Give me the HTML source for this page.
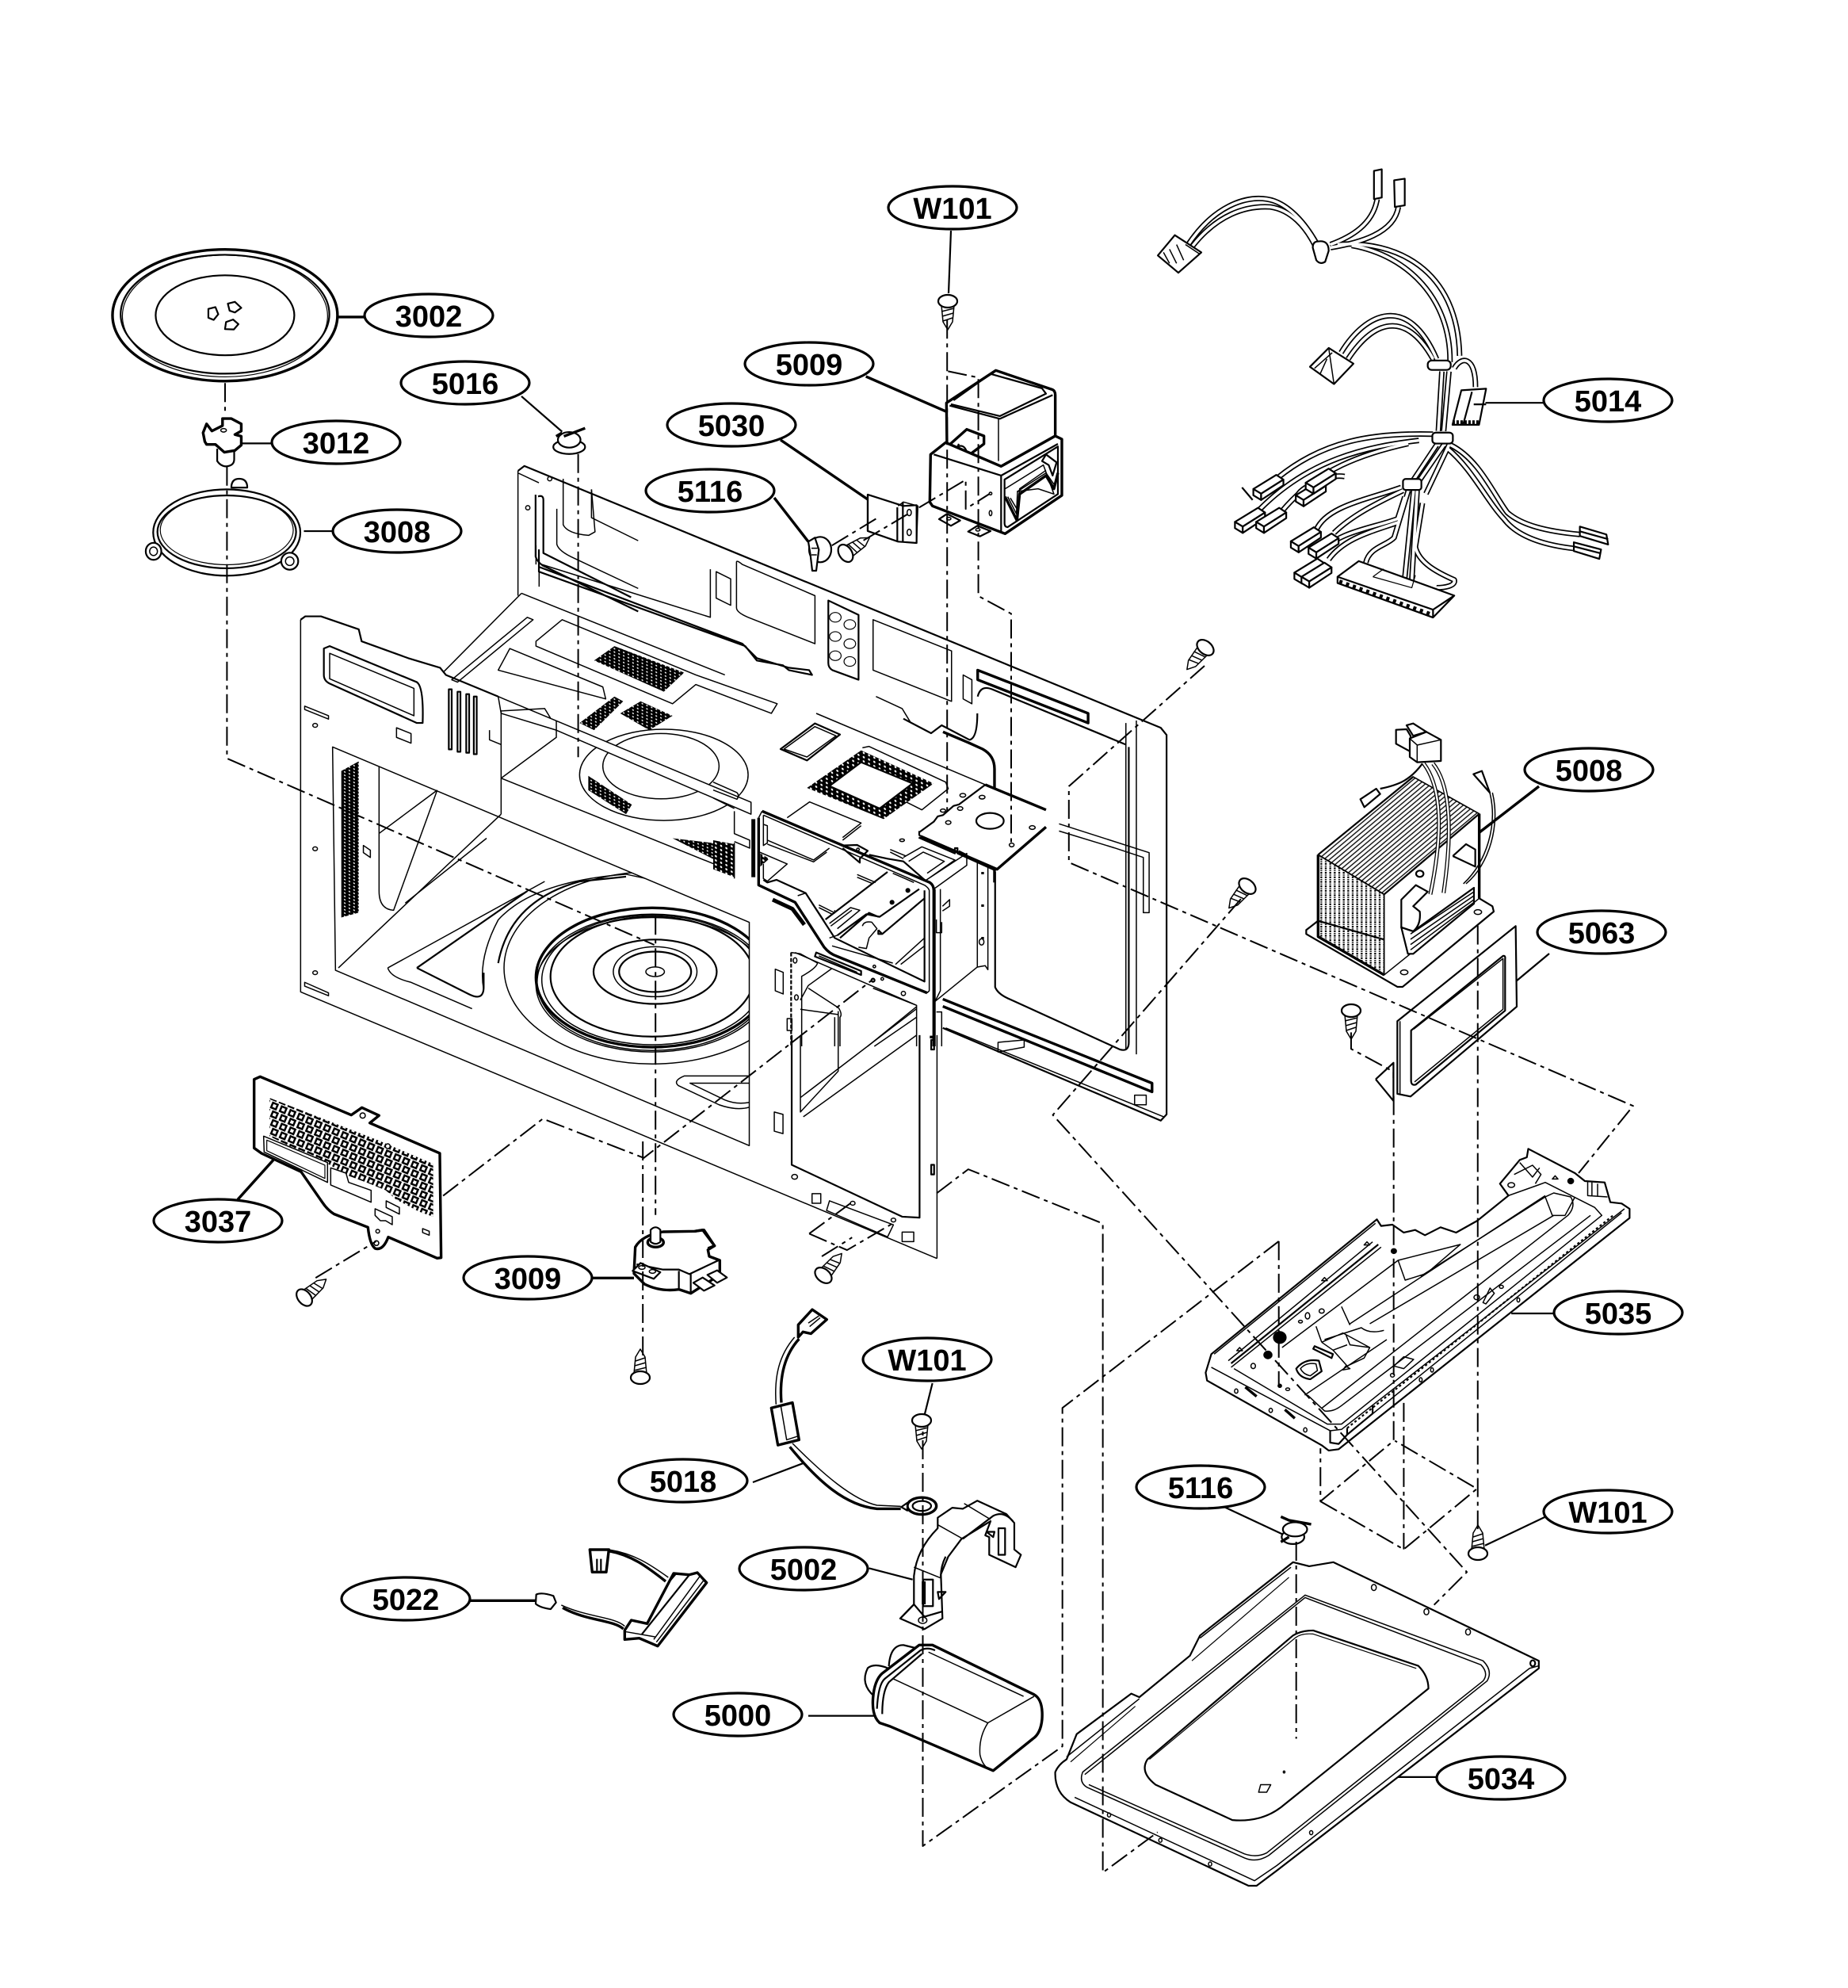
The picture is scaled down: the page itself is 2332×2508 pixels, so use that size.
<!DOCTYPE html>
<html><head><meta charset="utf-8"><style>
html,body{margin:0;padding:0;background:#fff}
svg{display:block;fill:none;stroke:#000;stroke-width:1.5;stroke-linejoin:round}
svg *{vector-effect:non-scaling-stroke}
.m{stroke-width:2.2}.k{stroke-width:3.4}.x{stroke-width:5}.t{stroke-width:1.2}
.f{fill:#fff}.b{fill:#000}
.d{stroke-width:2;stroke-dasharray:24 6 5 6}
.wb{stroke-width:7}.ww{stroke:#fff;stroke-width:3.6}
.l ellipse{fill:#fff;stroke-width:3.2}
.l text{font:bold 38px "Liberation Sans",sans-serif;fill:#000;stroke:none;text-anchor:middle}
</style></head><body>
<svg width="2332" height="2508" viewBox="0 0 2332 2508" xmlns="http://www.w3.org/2000/svg">
<defs>
<pattern id="dk" width="8" height="7" patternUnits="userSpaceOnUse" patternTransform="skewY(26)"><rect width="8" height="7" fill="#000" stroke="none"/><circle cx="4" cy="3.5" r="1.5" fill="#fff" stroke="none"/></pattern>
<pattern id="dkA" width="20" height="16" patternUnits="userSpaceOnUse" patternTransform="skewY(24)"><rect width="20" height="16" fill="#000" stroke="none"/><circle cx="10" cy="8" r="4" fill="#fff" stroke="none"/></pattern>
<pattern id="ht" width="14" height="14" patternUnits="userSpaceOnUse" patternTransform="rotate(-40)"><line x1="0" y1="7" x2="14" y2="7" stroke="#000" stroke-width="4"/></pattern>
<pattern id="fn" width="17" height="17" patternUnits="userSpaceOnUse"><line x1="6" y1="0" x2="6" y2="17" stroke="#000" stroke-width="7" stroke-dasharray="4 3"/></pattern>
<clipPath id="pc"><path d="M180,195L590,355L800,445V645L745,625L660,580L620,545L560,520L480,490L350,415L250,375L180,340Z"/></clipPath>
<g id="s"><path class="f" d="M-8,5L-6,26L0,36L6,26L8,5Z"/><path d="M-8,13L8,9M-7,19L7,15M-6,25L6,21"/><ellipse class="f m" cx="0" cy="0" rx="12" ry="8"/></g>
<g id="c"><path class="f m" d="M0,0L65,-45L85,-30L22,15Z"/><path class="f m" d="M0,0V20L22,35V15Z"/><path class="f m" d="M22,15L85,-30V-12L22,35Z"/></g>
<g id="wr">
<path d="M175,330C250,200 340,170 400,180C460,190 510,260 540,320"/>
<path d="M190,330C260,230 340,200 410,205C470,215 510,270 535,325"/>
<path d="M580,325C640,300 700,260 712,180"/>
<path d="M580,335C660,320 760,290 772,205"/>
<path d="M600,325C760,310 940,400 945,680"/>
<path d="M640,328C800,360 920,500 918,700"/>
<path d="M610,670C680,540 800,480 880,690"/>
<path d="M630,690C700,570 790,530 870,690"/>
<path d="M895,730L885,920"/>
<path d="M915,730L900,920"/>
<path d="M930,720C950,680 990,680 990,780"/>
<path d="M870,930C700,925 560,950 430,1070"/>
<path d="M830,950C680,970 520,1010 380,1170"/>
<path d="M800,960C680,990 540,1040 440,1180"/>
<path d="M520,1090C560,1070 590,1060 620,1065"/>
<path d="M510,1100C470,1130 500,1130 490,1140"/>
<path d="M920,965C1000,1010 1040,1120 1080,1180C1120,1220 1190,1240 1285,1250"/>
<path d="M910,975C980,1040 1020,1140 1070,1200C1110,1260 1190,1285 1270,1295"/>
<path d="M880,965L815,1075"/>
<path d="M900,965L830,1080"/>
<path d="M915,965L850,1120"/>
<path d="M780,1100C680,1140 570,1160 540,1235"/>
<path d="M785,1110C710,1150 640,1190 590,1245"/>
<path d="M790,1130L770,1200C700,1230 600,1240 550,1310"/>
<path d="M775,1210C700,1240 620,1260 575,1330"/>
<path d="M800,1110L760,1260C740,1285 690,1290 680,1340"/>
<path d="M815,1110L790,1390"/>
<path d="M825,1110L810,1395"/>
<path d="M840,1150L820,1290C830,1340 880,1370 930,1395C935,1415 900,1420 880,1420"/>
</g>
</defs>

<!-- main chassis -->
<g transform="translate(350,700) scale(.7334,.6059)">
<path class="m" d="M414,-175L425,-185L1520,360L1530,375L1530,1165L1520,1178L1145,985"/>
<path d="M414,-175V85M450,-150L415,-170M1460,350V1030M1478,345V1040"/>
<path class="m" d="M450,-10V25L800,185L825,215L880,235L915,240L920,250L880,240L870,230L825,220L805,190L450,35Z"/>
<path d="M445,20V-20M455,20L745,130V30"/>
<path d="M790,15Q790,10 800,20L925,85V185L810,130Q790,120 790,110Z"/>
<path class="m" d="M948,95L1000,125V260L955,240Q948,235 948,225Z"/>
<g class="t"><circle cx="960" cy="130" r="10"/><circle cx="985" cy="145" r="10"/><circle cx="960" cy="170" r="10"/><circle cx="985" cy="185" r="10"/><circle cx="960" cy="210" r="10"/><circle cx="985" cy="222" r="10"/></g>
<path d="M1025,135L1160,200V305L1025,240Z"/>
<path d="M755,35L780,50V105L755,90Z"/><path d="M1180,250L1195,260V310L1180,300Z"/>
<path class="k" d="M1205,240L1395,330V350L1205,260Z"/>
<path class="m" d="M1205,295Q1210,270 1230,280L1410,370L1460,395"/>
<path d="M1030,295L1075,320L1090,350"/>
<path class="m" d="M1235,660V900Q1240,915 1260,925L1450,1030Q1465,1035 1465,1015V400"/>
<path class="k" d="M1145,925L1505,1100V1118L1145,940"/>
<path d="M1150,985L1525,1170M1240,1015L1285,1010L1285,1025L1240,1035Z"/>
<path d="M1475,1125L1495,1125V1145L1475,1145Z"/>
<path d="M420,80L770,250M420,80L285,245"/>
<path d="M300,260L430,130L440,135L310,265Z"/>
<path d="M380,240L400,195L560,275L565,300Z"/>
<path d="M445,180L490,135L720,250L860,310L850,330L720,270L680,310L445,190Z"/>
<path fill="url(#dk)" stroke="none" d="M545,220L580,190L700,245L665,285Z"/>
<path fill="url(#dk)" stroke="none" d="M520,350L580,295L595,305L545,365Z"/>
<path fill="url(#dk)" stroke="none" d="M590,330L625,305L680,335L640,365Z"/>
<ellipse cx="665" cy="458" rx="145" ry="95"/><ellipse cx="660" cy="440" rx="100" ry="68"/>
<path fill="url(#dk)" stroke="none" d="M535,460L610,520L600,540L535,490Z"/>
<!-- duct -->
<path class="f" d="M380,295L815,515V540L480,365L385,330Z"/>
<path d="M365,365V385L385,395M385,325L460,320L470,340"/>
<path d="M385,325V465L785,660"/>
<path d="M385,465L480,380V345"/>
<path fill="url(#dk)" stroke="none" d="M680,590L785,605V655Z"/>
<!-- front frame -->
<path class="m" d="M40,135L48,128L75,128L140,155L145,180L225,215L280,235L290,250L380,295"/>
<path d="M40,135V910L1135,1465M1135,1000V1465"/>
<path d="M95,400L812,765V1230L100,865Z"/>
<path class="m" d="M80,195L90,190L240,265Q252,275 250,350L240,350L90,268Q80,262 80,250Z"/>
<path d="M90,205L235,278V335L90,258Z"/>
<path class="m" d="M295,280H300V405H295ZM310,285H315V410H310ZM325,290H330V412H325ZM338,295H343V415H338Z"/>
<path d="M205,360L230,372V392L205,380ZM47,315L88,335V342L47,322ZM47,890L88,912V918L47,898Z"/>
<circle cx="65" cy="355" r="4"/><circle cx="65" cy="612" r="4"/><circle cx="65" cy="870" r="4"/>
<path fill="url(#dk)" stroke="none" d="M110,450L140,430V745L110,755Z"/>
<path d="M175,440V700Q175,738 200,740L275,490M175,580L275,490M105,860L385,540M385,465V540"/>
<path d="M220,725L360,590"/>
<path d="M160,630L148,620V605L160,615Z"/>
<clipPath id="w"><path d="M95,400L812,765V1230L100,865Z"/></clipPath>
<g clip-path="url(#w)">
<ellipse class="k" cx="645" cy="880" rx="200" ry="145"/>
<ellipse cx="645" cy="885" rx="190" ry="135"/><ellipse cx="645" cy="890" rx="198" ry="142"/><ellipse cx="645" cy="895" rx="200" ry="140"/>
<ellipse class="m" cx="645" cy="878" rx="175" ry="125"/>
<ellipse class="m" cx="650" cy="868" rx="106" ry="67"/>
<ellipse cx="650" cy="868" rx="72" ry="52"/><ellipse class="m" cx="650" cy="868" rx="62" ry="42"/>
<ellipse cx="650" cy="868" rx="16" ry="10"/>
<path d="M355,905Q345,840 380,760Q440,680 600,665L812,720"/>
<path class="m" d="M380,850Q400,720 520,680L600,670"/>
<ellipse cx="645" cy="860" rx="255" ry="200"/>
<path class="m" d="M240,860L430,700M240,860L330,915Q355,930 355,900V870"/>
<path d="M190,860L460,680M190,860Q195,880 230,890L335,945"/>
<path d="M812,1085L700,1085Q680,1095 690,1105L760,1145Q790,1158 812,1150"/>
<path d="M812,1100L710,1100L770,1135Q790,1145 812,1140"/>
</g>
<path d="M1345,560L1500,620V745H1490V630L1440,610L1345,575"/>
<!-- lower right window -->
<path class="m" d="M885,1000V1270L1075,1378L1105,1380V1000"/>
<path d="M900,1000V1160L965,1075V950M900,1130L1100,945M905,1170L1100,1000"/>
<path d="M855,1160L870,1165V1205L855,1200Z"/>
<path d="M920,1330H935V1350H920ZM1075,1410H1095V1430H1075Z"/>
<path d="M950,1345L1060,1395L1050,1420L945,1365Z"/>
<path class="m" d="M1125,1010H1130V1030H1125ZM1125,1270H1130V1290H1125Z"/>
<circle cx="990" cy="1350" r="4"/><circle cx="1060" cy="1385" r="4"/>
<circle cx="890" cy="1295" r="5"/>
</g>

<!-- central chassis detail -->
<g transform="translate(900,900) scale(.3333)">
<path class="m" d="M255,135L385,38L480,80L355,178Z"/><path d="M268,135L385,50L465,85L355,165Z"/>
<path fill="url(#dkA)" stroke="none" fill-rule="evenodd" d="M355,282L560,140L835,265L645,400ZM440,275L630,360L755,265L560,185Z"/>
<path class="m" d="M440,275L560,185L755,265L630,360Z"/>
<path d="M565,130L590,125L880,260L890,285L790,365L730,335"/>
<path d="M390,0L1030,270"/>
<path class="m" d="M720,20L825,75L865,45L970,100Q1000,95 1000,0"/>
<path class="k" d="M870,70L965,110L1020,135Q1065,160 1065,210V285"/>
<path class="f k" d="M1030,270L1260,365"/>
<path class="k" d="M1260,430L1075,590L785,465"/>
<path class="m" d="M780,445V460L785,465M780,450L835,410L850,390L870,385L910,350L930,345L1030,270"/>
<ellipse class="m" cx="1048" cy="407" rx="52" ry="30"/>
<g><ellipse cx="1018" cy="317" rx="11" ry="7"/><ellipse cx="1208" cy="432" rx="11" ry="7"/><ellipse cx="1130" cy="498" rx="9" ry="7"/><ellipse cx="890" cy="413" rx="10" ry="7"/><ellipse cx="945" cy="310" rx="11" ry="7"/><ellipse cx="935" cy="360" rx="10" ry="7"/><ellipse cx="870" cy="368" rx="10" ry="6"/><ellipse cx="715" cy="480" rx="9" ry="5"/></g>
<path class="m" d="M778,470L915,530V510L925,510V530L1070,595"/>
<path class="k" d="M1065,590V640"/>
<path d="M1000,560V960L1030,955L1040,970V580"/>
<path stroke-dasharray="3 38" class="k" d="M1020,600V950"/>
<ellipse cx="1016" cy="865" rx="9" ry="12"/>
<path d="M840,1090L1000,960"/>
<path class="k" d="M185,370L820,640Q835,650 835,670V1260"/>
<path d="M190,385L800,650Q815,660 818,670V1050L810,1058"/>
<path class="k" d="M172,395V650L310,715L420,885Q440,910 470,920L810,1058"/>
<path class="m" d="M190,630L205,640L240,630L350,680L460,850L800,1015V670"/>
<path d="M185,370L172,395M320,690L350,680M420,785L350,680M440,850L470,840"/>
<path d="M190,385V500L205,490V425L190,420"/>
<path d="M205,480L380,555L440,510M205,495L380,562L430,525"/>
<path d="M280,395L365,335L560,415L490,470M560,425L490,480"/>
<path class="m" d="M490,500L545,498L585,520L555,550V565L490,510"/>
<circle cx="548" cy="515" r="5"/>
<path class="m" d="M590,535L660,550L720,560L800,630"/>
<path d="M800,635L960,530V575L835,665M930,520L960,535M720,545L790,505L915,555L815,625M740,560L795,525L875,560L810,605"/>
<path d="M670,515L730,540M670,525L720,550"/>
<path class="m" d="M425,780L660,600"/>
<path d="M545,610L615,640M545,620L605,645M400,725L460,755V745M400,735L450,760"/>
<path d="M440,795L520,735L555,745L470,815M445,805L525,745"/>
<path class="m" d="M470,840L580,760L630,770L780,665M480,850L590,755L625,770M640,835L800,700M625,820V835L640,835L625,820"/>
<path d="M565,805Q570,785 600,790L620,815L590,850L580,890L550,885M680,605L760,640"/>
<circle class="b" cx="677" cy="715" r="7"/><circle class="b" cx="737" cy="670" r="7"/>
<path d="M690,950L800,850M710,950L800,880M450,880L680,945M610,958"/>
<circle cx="610" cy="958" r="5"/>
<path class="x" d="M225,705L300,740L345,800"/>
<path class="x" stroke-width="6" d="M152,400V620"/>
<path d="M80,370V455L138,480V510L80,485M0,320L80,360M0,260L90,300Q100,310 90,325L0,290"/>
<path fill="url(#dkA)" stroke="none" d="M0,480L80,495V620L0,590Z"/>
<path d="M80,490V625"/>
<path fill="url(#dkA)" stroke="none" d="M178,530L212,550L178,580Z"/>
<path d="M175,525L280,570L205,635M190,570V625L205,635"/>
<path class="m" stroke-dasharray="5 2" d="M295,905V1260"/>
<path d="M295,905L330,910L395,945Q390,965 335,995V1260M330,1085L360,1030L450,965"/>
<path d="M330,1120L475,1140M360,1040L475,1115M475,1115Q490,1140 480,1150V1260M460,1150V1260"/>
<path d="M605,1040L770,1105V1260M585,1260L770,1110M610,1260L770,1150M310,905L770,1105"/>
<path class="m" d="M390,905L560,975V990L385,920Z"/>
<path d="M400,918L545,980"/>
<path d="M235,968L265,980V1062L235,1050ZM280,1155H298V1200H280Z"/>
<ellipse cx="310" cy="935" rx="7" ry="10"/><ellipse cx="315" cy="1075" rx="7" ry="10"/><ellipse cx="720" cy="1060" rx="8" ry="8"/><circle cx="640" cy="1005" r="5"/><circle class="m" cx="605" cy="1010" r="6"/>
<path d="M860,665V1050L840,1090M840,665V1260M845,1130H865V1260"/>
<path d="M868,730L895,705V730L868,748M845,780V830L865,830V790"/>
<path class="k" d="M820,1225H835V1260"/>
</g>

<!-- back panel top-left, 3002, 3012, 3008, 5016 -->
<g transform="translate(100,200) scale(.4464)">
<path class="m" d="M1297,955Q1312,950 1312,965V1115L1560,1240"/>
<path class="m" d="M1290,950V1125Q1295,1140 1310,1150L1580,1280"/>
<path d="M1300,1150V1210M1368,905V1035Q1380,1060 1440,1065L1458,1055L1448,935"/>
<path d="M1350,990V1090Q1355,1110 1400,1130L1580,1215"/>
<path d="M1448,935V1015L1580,1080"/>
<circle cx="1330" cy="905" r="6"/><circle cx="1268" cy="987" r="6"/>
<ellipse class="k" cx="412" cy="443" rx="318" ry="186"/>
<ellipse class="m" cx="412" cy="440" rx="295" ry="168"/>
<ellipse class="t" cx="412" cy="445" rx="290" ry="172"/>
<ellipse class="m" cx="412" cy="443" rx="196" ry="113"/>
<path class="m" d="M365,425L385,420L393,440L380,456L365,450ZM420,410L440,405L458,422L440,435L425,430ZM412,482L415,462L435,455L450,468L437,483Z"/>
<path class="k" d="M733,448H812"/>
<path class="f m" d="M390,820V855Q400,870 415,870Q438,868 438,850V820"/>
<path class="f k" d="M355,800L350,775L360,750L375,770L405,755V735L430,735L458,750L458,770L440,780L458,785L458,810L440,825L410,830L385,808L360,808Z"/>
<ellipse cx="408" cy="768" rx="8" ry="5"/>
<path class="m" d="M460,805H545"/>
<path class="f m" d="M430,930Q430,905 452,905Q475,905 475,930Z"/>
<ellipse class="m" cx="417" cy="1057" rx="208" ry="122"/>
<ellipse class="m" cx="417" cy="1055" rx="196" ry="103"/>
<ellipse class="t" cx="417" cy="1050" rx="188" ry="98"/>
<ellipse class="f m" cx="210" cy="1110" rx="22" ry="24"/><ellipse cx="210" cy="1110" rx="11" ry="12"/>
<ellipse class="f m" cx="595" cy="1138" rx="24" ry="24"/><ellipse cx="595" cy="1138" rx="12" ry="12"/>
<path class="m" d="M635,1053H720"/>
<path class="m" d="M1250,672L1365,772"/>
<ellipse class="f m" cx="1385" cy="815" rx="45" ry="20"/>
<ellipse class="f m" cx="1385" cy="795" rx="32" ry="22"/>
<path class="k" d="M1370,785L1430,762M1348,785L1365,775"/>
</g>

<!-- 5009 etc -->
<g transform="translate(1000,400) scale(.3333)">
<path class="k" d="M278,225L583,358M-45,465L285,690M-69,684L60,850"/>
<path class="f k" d="M583,325L770,202L985,275Q995,280 995,295V450L790,565L585,490Z"/>
<path class="m" d="M595,335L785,385L985,295M610,315L750,215L945,270L960,290L785,375L600,330"/>
<path d="M780,385V545"/>
<path class="f k" d="M598,480L660,425L725,450L725,480L665,525L620,525Z"/>
<path class="m" d="M625,490Q650,480 660,510M605,495L640,510M615,515L630,480"/>
<path class="f k" d="M523,520L580,475L790,565L995,450L1020,462V675L805,820L530,715L520,700Z"/>
<path class="m" d="M535,520L790,600L1005,480M790,600V810"/>
<path class="m" d="M803,615L1005,490L1005,670L815,795Q803,795 803,780Z"/>
<path d="M805,650L950,560L990,670L930,650L850,660"/>
<path class="k" d="M805,680L850,770L860,670L960,600L990,650L1005,590"/>
<path d="M815,680L848,745L852,660L960,590L995,640M825,685L852,730L860,650L960,580"/>
<path class="m" d="M945,545L960,520L1000,550L985,600L970,560Z"/>
<path class="m" d="M555,765L585,745L635,770L600,790ZM665,812L700,790L750,810L710,830Z"/>
<ellipse cx="592" cy="763" rx="8" ry="5"/><ellipse cx="702" cy="805" rx="8" ry="5"/>
<circle cx="750" cy="668" r="5"/><ellipse cx="750" cy="742" rx="5" ry="10"/>
<path class="m" d="M285,672L420,715L470,712V855L400,850L285,810Z"/>
<path class="m" d="M397,720V848M418,700V850M285,672V810"/>
<path d="M400,715L420,700L475,715L470,855"/>
<ellipse cx="442" cy="740" rx="8" ry="12"/><ellipse cx="442" cy="815" rx="8" ry="12"/>
<ellipse class="f m" cx="105" cy="880" rx="42" ry="48"/>
<path class="f m" d="M60,850L85,835L100,880L90,960L75,960L68,900Z"/>
<path d="M72,875H95M72,900H92"/>
</g>
<path class="m" d="M1200,291L1197,370"/>

<!-- harness -->
<g transform="translate(1420,180) scale(.4464,.3954)">
<use href="#wr" class="wb"/><use href="#wr" class="ww"/>
<path class="m" d="M330,1100L360,1140"/>
<path class="m f" d="M92,360L140,295L215,350L150,415Z"/>
<path d="M170,325L210,355M108,350L125,385M125,340L145,385M145,325L165,375M92,360L150,415"/>
<path class="f m" d="M703,90L725,85V175L703,180Z"/><path class="f m" d="M760,120L790,115V200L762,205Z"/>
<path class="f m" d="M530,335Q530,315 545,315Q575,310 575,345L565,380Q550,390 540,375Z"/>
<path class="f m" d="M522,715L575,655L645,705L590,770Z"/>
<path d="M535,720L585,670M550,740L570,690M575,655L590,770"/>
<rect class="f m" x="855" y="695" width="65" height="30" rx="12"/>
<path class="f m" d="M950,790L1020,785L1000,900L925,900Z"/>
<path class="m" d="M980,795L955,900M985,835H1020"/>
<path stroke-dasharray="3 2" class="x" d="M925,892H1003"/>
<rect class="f m" x="868" y="925" width="58" height="35" rx="10"/>
<rect class="f m" x="785" y="1073" width="52" height="35" rx="8"/>
<use href="#c" transform="translate(362,1105)"/>
<use href="#c" transform="translate(310,1210)"/>
<use href="#c" transform="translate(370,1210)"/>
<use href="#c" transform="translate(482,1125)"/>
<use href="#c" transform="translate(510,1085)"/>
<use href="#c" transform="translate(468,1272)"/>
<use href="#c" transform="translate(518,1292)"/>
<use href="#c" transform="translate(478,1372)"/>
<use href="#c" transform="translate(498,1385)"/>
<g class="f m">
<path d="M1285,1225L1360,1250L1365,1282L1285,1255Z"/><path d="M1285,1240L1365,1265"/>
<path d="M1268,1275L1345,1298L1340,1328L1268,1303Z"/><path d="M1268,1288L1343,1310"/>
</g>
<path class="f m" d="M600,1385L660,1335L930,1445L870,1515L600,1405Z"/>
<path class="m" d="M600,1385L870,1490V1515M870,1490L930,1445"/>
<path stroke-dasharray="4 5" class="x" d="M605,1400L865,1505"/>
<path class="t" d="M700,1385L810,1420L820,1380M700,1385L730,1360"/>
<path class="m" d="M1018,830H1183"/>
</g>

<!-- transformer -->
<g transform="translate(1620,880) scale(.3333)">
<path class="f m" d="M130,845L85,880V895L430,1095H450L795,810L790,790L735,757L500,950L130,845Z"/>
<ellipse cx="735" cy="812" rx="14" ry="9"/><ellipse cx="456" cy="1040" rx="14" ry="9"/>
<path class="f" d="M130,595L490,300L740,440V760L380,1050V745L130,595Z"/>
<path fill="url(#ht)" d="M130,595L490,300L740,440L380,745Z"/>
<path fill="url(#fn)" d="M130,595L380,745V1050L130,905Z"/>
<path class="k" d="M130,595V905L380,1050M740,440V760"/>
<path class="m" d="M130,595L490,300M380,745L740,440"/>
<path class="f m" d="M445,765L500,710L545,735L490,790L515,810Q520,860 490,885L445,870Z"/>
<path class="f m" d="M445,870L470,970H490L720,780V720L490,885Z"/>
<path d="M480,895L720,735M480,915L720,750M480,935L720,765M480,955L720,775"/>
<path class="m" d="M640,600L690,555L725,575V640L640,600"/>
<ellipse class="m" cx="515" cy="667" rx="14" ry="12"/>
<path style="stroke-width:5" d="M530,250C590,330 610,480 555,745"/><path class="ww" style="stroke-width:2.4" d="M530,250C590,330 610,480 555,745"/>
<path style="stroke-width:5" d="M565,250C630,330 640,500 605,740"/><path class="ww" style="stroke-width:2.4" d="M565,250C630,330 640,500 605,740"/>
<path class="m" d="M525,250C480,310 440,330 365,345"/>
<path class="m f" d="M290,385L350,345L365,365L305,415Z"/>
<path d="M780,360C810,480 770,620 680,705M790,360C820,480 780,630 690,705"/>
<path class="m f" d="M718,290L750,278L780,360Z"/>
<path class="f m" d="M425,122L465,120L480,145V205L425,175Z"/>
<path class="f m" d="M465,105L490,98L540,130L490,145Z"/>
<path class="f m" d="M477,155L540,130L595,160V240L505,245L477,225Z"/>
<path d="M505,180V245M477,155L505,180L595,160"/>
<!-- 5063 -->
<path class="f m" d="M430,1225L878,865L882,1170L480,1510L430,1500Z"/>
<path d="M440,1225V1500"/>
<path class="m" d="M482,1260L830,978Q840,975 838,990V1185L500,1465Q482,1470 482,1450Z"/>
<path d="M492,1255L830,988V1180L495,1455"/>
</g>
<path class="k" d="M1867,1050L1942,992"/>
<path class="m" d="M1955,1203L1913,1238"/>
<g transform="scale(1.6)">
<path class="m" d="M1085,851L1099,838V868L1085,851"/>
</g>
<use href="#s" transform="translate(1705,1275)"/>

<!-- 3037 -->
<g transform="translate(280,1320) scale(.3333)">
<path class="k" d="M195,430L60,580"/>
<path class="f k" d="M122,125L145,115L490,260L530,232L595,262L560,290L825,405L830,800L815,802L630,722Q610,775 580,765Q560,750 553,685L425,635Q400,620 380,590L300,475L150,405L122,385Z"/>
<g clip-path="url(#pc)">
<path style="stroke-width:9;stroke-dasharray:9 3" d="M120,160L830,458M120,193L830,491M120,226L830,524M120,259L830,557M120,292L830,590M120,325L830,623M120,358L830,656"/>
<path style="stroke:#fff;stroke-width:4;stroke-dasharray:4 8;stroke-dashoffset:-2.5" d="M120,160L830,458M120,193L830,491M120,226L830,524M120,259L830,557M120,292L830,590M120,325L830,623M120,358L830,656"/>
</g>
<path class="f" d="M158,340L400,440V515L160,400Z"/>
<path class="t" d="M170,355L390,450V500L170,395Z"/>
<path class="f" d="M412,525V460L470,480L480,515L565,545V590L412,525Z"/>
<path class="f" d="M580,615L645,645V675L620,660L600,660L580,640ZM622,585L672,610V635L622,610ZM760,690L785,700V715L760,705Z"/>
<circle cx="533" cy="262" r="10"/><circle class="f" cx="628" cy="378" r="9"/><circle cx="590" cy="700" r="7"/><circle cx="585" cy="745" r="9"/>
</g>
<use href="#s" transform="translate(384,1637) rotate(-130)"/>

<!-- 3009 -->
<g transform="translate(770,1530) scale(.3333)">
<path class="f k" d="M95,130Q120,85 200,72L320,70L350,65L395,125L370,140L375,165L415,180V235L305,305L260,290Q190,300 130,270L90,230Z"/>
<path class="k" d="M320,70L355,65L395,125L370,135"/>
<path class="m" d="M100,195L200,215L260,215L300,232L410,180M260,220V285M305,232V305"/>
<path class="f m" d="M85,220L115,190L190,225L165,250Z"/>
<ellipse cx="120" cy="207" rx="12" ry="7"/><ellipse cx="160" cy="222" rx="12" ry="7"/>
<path class="f m" d="M315,265L350,245L395,275L355,295Z"/><path class="f m" d="M368,235L405,218L442,245L405,265Z"/>
<ellipse class="f k" cx="172" cy="112" rx="30" ry="18"/>
<path class="f m" d="M153,65Q172,45 190,65V110Q172,125 153,110Z"/>
<path class="k" d="M-69,247H90"/>
</g>
<use href="#s" transform="translate(1039,1609) rotate(-140)"/>
<use href="#s" transform="translate(808,1738) rotate(180)"/>
<use href="#s" transform="translate(1196,380)"/>
<use href="#s" transform="translate(1521,817) rotate(40)"/>
<use href="#s" transform="translate(1574,1118) rotate(40)"/>
<use href="#s" transform="translate(1067,698) rotate(-123)"/>

<!-- 5018, 5002, 5000 -->
<g transform="translate(900,1620) scale(.3333,.4464)">
<path class="m" d="M150,560L345,505M590,803L755,835M360,1220H610M830,280L800,370"/>
<path class="k" d="M325,155C270,200 250,260 258,335"/>
<path d="M308,150C250,200 230,260 238,340"/>
<path class="f k" d="M220,350L300,335L325,440L245,455Z"/>
<path d="M255,340L278,440L320,430"/>
<path class="k" d="M290,460C400,560 500,625 620,635L710,635"/>
<path d="M300,450C420,540 530,610 620,625L710,628"/>
<ellipse class="f k" cx="790" cy="627" rx="55" ry="24"/><ellipse class="m" cx="790" cy="627" rx="35" ry="14"/>
<path class="m f" d="M712,630L735,618V640Z"/>
<path class="f k" d="M322,115L375,72L430,100L370,140L340,135L322,150Z"/>
<path d="M360,110L400,90M365,120L405,95"/>
<path class="f m" d="M850,660L905,632L945,635L1000,612L1110,650L1140,675V750L1165,765L1145,800L1045,765V715L1030,710L1050,670L940,720L890,770L862,820L868,945L800,975L708,945L760,905V825Q770,750 850,690Z"/>
<path d="M850,680L945,720M760,800L860,830M950,620L1050,665"/>
<path class="m" d="M880,770Q860,800 862,830M945,720L1060,655Q1100,640 1135,670"/>
<path class="m" d="M1080,690H1105V765H1080Z"/>
<path class="m" d="M795,835H832V910H795Z"/>
<path class="x" d="M797,840V905"/>
<path class="m" d="M708,945L760,905L800,940L868,925"/>
<ellipse cx="793" cy="950" rx="16" ry="9"/>
<path class="m" d="M850,870L880,870L855,890Z"/>
<path class="m" d="M1035,700L1065,700L1060,715Z"/>
<path class="f m" d="M665,1080Q670,1020 720,1020L775,1030"/>
<path class="f m" d="M610,1165Q555,1130 585,1085Q610,1070 660,1085"/>
<path class="f k" d="M605,1170Q610,1120 640,1100L780,1020H830L1215,1160Q1250,1175 1245,1230Q1240,1270 1210,1285L1060,1375L670,1250L630,1240Q600,1220 605,1170Z"/>
<path class="m" d="M620,1200Q625,1130 650,1115L785,1035Q810,1025 840,1035M640,1215Q640,1150 665,1125L790,1045"/>
<path d="M680,1115L1040,1240L1215,1165M815,1040L1175,1165M1040,1240Q1005,1280 1010,1330Q1020,1365 1055,1375"/>
</g>
<use href="#s" transform="translate(1163,1792)"/>

<!-- 5022 -->
<g transform="translate(640,1880) scale(.3333)">
<path class="k" d="M-141,418H110"/>
<path class="f m" d="M110,395Q130,385 175,400L185,425L165,450Q125,445 108,430Z"/>
<path class="k" d="M210,445C300,495 400,490 440,525M385,230C470,245 530,290 600,345"/>
<path d="M205,435C300,480 410,480 445,515M385,225C480,240 540,280 610,330"/>
<path class="f k" d="M313,225L385,225L375,310L322,310Z"/>
<path class="m" d="M340,260V305M355,260V305"/>
<path class="f k" d="M445,530L470,492L530,505L630,315L690,320L720,312L755,350L570,590L500,560L445,565Z"/>
<path class="m" d="M610,350L640,315L690,320L510,545"/>
<path d="M730,325L555,565M745,340L565,575M445,535L560,555"/>
</g>

<!-- 5035 -->
<g transform="translate(1500,1430) scale(.3571,.3333)">
<path class="f m" d="M60,905L80,835L665,325L680,350L720,345L760,375L800,365L835,385L890,355L945,375L1020,330L1130,235L1100,190L1170,100L1195,90L1200,58L1365,150L1400,180L1470,185L1490,260L1530,265L1558,285V320L530,1195L495,1200L470,1180L65,935Z"/>
<path d="M80,885L500,1125L540,1120L1540,285"/>
<path class="m" d="M150,870L670,420"/><path d="M150,885L680,430M90,835L660,340M140,860L650,410"/>
<path d="M160,890L490,1100L540,1100L1460,310L1435,280L1260,185L1235,195L1130,235"/>
<path stroke-dasharray="3 3" class="m" d="M560,1115L1500,310"/><path d="M570,1130L1530,300"/>
<path d="M420,990L480,1050Q510,1055 540,1030L1420,310M410,990L700,780M470,1040L1340,310Q1370,275 1350,240L1290,225L1260,240L820,540"/>
<path d="M330,810L740,480L960,420L840,530L765,555L740,480M450,730L470,790M540,655L570,725M570,720L1260,235M640,720L1290,310M1260,240L1285,310L1330,310L1365,240"/>
<path d="M470,790L545,755L640,810L620,850L560,880L510,820L470,790M480,780L610,735Q640,760 690,745M555,760L570,800L640,810M560,800L510,820"/>
<path class="m" d="M380,890Q410,850 460,860L470,900L430,930Q390,925 380,890Z"/>
<path d="M395,890Q415,865 450,872L455,897L430,917Q405,912 395,890Z"/>
<path class="m" d="M445,805L510,835L505,850L440,815Z"/>
<circle class="b" cx="322" cy="772" r="22"/><circle class="b" cx="280" cy="838" r="14"/><circle class="b" cx="725" cy="445" r="9"/><ellipse cx="1018" cy="620" rx="10" ry="9"/><circle class="b" cx="322" cy="955" r="6"/><ellipse cx="470" cy="672" rx="9" ry="8"/><circle cx="720" cy="915" r="7"/>
<path d="M1040,640L1065,585L1080,605L1050,645ZM725,880L760,845L795,855L760,890Z"/>
<path class="m" d="M650,1030V1060L560,1140M500,1125V1170L530,1175L560,1140M560,1115V1140"/>
<path class="k" d="M200,960L240,995M340,1045L375,1078"/>
<g><ellipse cx="168" cy="975" rx="6" ry="8"/><ellipse cx="290" cy="1048" rx="6" ry="8"/><ellipse cx="412" cy="1122" rx="6" ry="8"/><ellipse cx="350" cy="968" rx="7" ry="5"/><ellipse cx="860" cy="895" rx="5" ry="8"/><ellipse cx="820" cy="932" rx="5" ry="8"/><ellipse cx="1165" cy="630" rx="5" ry="8"/><ellipse cx="1105" cy="580" rx="7" ry="6"/><ellipse cx="228" cy="880" rx="8" ry="10"/><ellipse cx="420" cy="690" rx="8" ry="12"/><ellipse cx="395" cy="712" rx="7" ry="5"/><ellipse cx="1140" cy="195" rx="12" ry="9"/></g>
<path d="M1150,155L1215,120L1245,155L1225,190M1170,110L1215,165L1240,130M1410,180V235L1480,240M1425,185V235M1445,190V235"/>
<circle class="b" cx="1350" cy="180" r="10"/>
<path d="M1295,160L1285,172H1305ZM630,410L620,422H640ZM480,545L470,557H490ZM180,810L170,822H190ZM555,880L545,895L570,890Z"/>
</g>

<!-- leaders, 5116b, 5034 -->
<g transform="translate(1300,1400) scale(.5102,.6378)">
<path class="m" d="M1190,403H1295M478,785L625,840M1275,805L1125,862M875,1320H1012"/>
<ellipse class="f m" cx="650" cy="845" rx="28" ry="14"/><ellipse class="f m" cx="655" cy="830" rx="30" ry="14"/>
<path class="k" d="M620,805L640,812L695,820M620,855L640,845"/>
<path class="f m" d="M90,1285L115,1235L250,1155L270,1162L395,1080L420,1040L650,895L690,903L750,895L1258,1090V1105L610,1505L560,1535H540L100,1370Q60,1350 62,1310Q70,1295 90,1285Z"/>
<path d="M90,1280L270,1165M420,1045L645,905"/>
<path d="M1258,1100L1235,1105L610,1495L555,1525L110,1360"/>
<path class="t" d="M100,1290L260,1180M400,1090L640,925"/>
<path d="M130,1310L680,960L1120,1090Q1145,1110 1130,1130L590,1475Q560,1490 530,1480L140,1340Q120,1330 130,1310Z"/>
<path d="M135,1315L680,965L1115,1098Q1135,1115 1120,1130L585,1470Q560,1480 530,1472L145,1335"/>
<path class="m" d="M290,1285L650,1040Q670,1030 700,1030L960,1100Q985,1120 985,1145L620,1380Q570,1410 500,1405L310,1335Q270,1310 290,1285Z"/>
<path class="t" d="M295,1285L655,1045Q670,1035 700,1037L955,1105"/>
<path d="M570,1335L595,1335L585,1350L565,1350Z"/>
<circle cx="628" cy="1310" r="2"/>
<circle cx="850" cy="945" r="6"/><circle cx="980" cy="993" r="6"/><circle cx="1083" cy="1033" r="6"/><circle class="m" cx="1243" cy="1095" r="6"/>
<circle cx="195" cy="1395" r="4"/><circle cx="322" cy="1445" r="4"/><circle cx="445" cy="1492" r="4"/><circle cx="695" cy="1430" r="4"/>
</g>
<use href="#s" transform="translate(1865,1960) rotate(180)"/>

<!-- dash-dot lines -->
<g transform="scale(1.593)" class="d">
<path d="M751,294L775,299V472L801,486V669"/>
<path d="M728,402L765,380V403L784,391M659,432L697,409M684,428L721,406"/>
<path d="M983,712L834,883L1162,1245L1136,1271"/>
<path d="M651,995L675,980M641,977L675,952M641,977L671,990L707,969"/>
<path d="M351,947L430,886L510,917L691,776"/>
<path d="M250,1012L298,983"/>
<path d="M742,945L767,926L873.6,969V1483L917,1451"/>
<path d="M1013,983L841.6,1115V1383L731,1462V1133"/>
<path d="M1013,983V1097"/>
<path d="M1104,868V1141L1046,1189V1147M1046,1189L1112,1227L1170,1179L1105,1141M1112,1111V1227"/>
<path d="M1170.6,733V1211"/>
<path d="M1026.8,1221V1377"/>
</g>
<g transform="scale(1.6)" class="d">
<path d="M177.5,302V326M179,368V598L516,745M517,722V958M507,900V1070"/>
<path d="M456,358V597"/>
<path d="M747,252V640"/>
<path d="M950,525L843,620V680L1288,872L1245,925"/>
<path d="M1065.6,814V827L1099,845V850"/>
</g>

<!-- labels -->
<g class="l" transform="translate(0,-2)">
<ellipse cx="1202" cy="264" rx="81" ry="27"/><text x="1202" y="278">W101</text>
<ellipse cx="541" cy="400" rx="81" ry="27"/><text x="541" y="414">3002</text>
<ellipse cx="587" cy="485" rx="81" ry="27"/><text x="587" y="499">5016</text>
<ellipse cx="1021" cy="461" rx="81" ry="27"/><text x="1021" y="475">5009</text>
<ellipse cx="923" cy="538" rx="81" ry="27"/><text x="923" y="552">5030</text>
<ellipse cx="896" cy="621" rx="81" ry="27"/><text x="896" y="635">5116</text>
<ellipse cx="424" cy="560" rx="81" ry="27"/><text x="424" y="574">3012</text>
<ellipse cx="501" cy="672" rx="81" ry="27"/><text x="501" y="686">3008</text>
<ellipse cx="2029" cy="507" rx="81" ry="27"/><text x="2029" y="521">5014</text>
<ellipse cx="2005" cy="973" rx="81" ry="27"/><text x="2005" y="987">5008</text>
<ellipse cx="2021" cy="1178" rx="81" ry="27"/><text x="2021" y="1192">5063</text>
<ellipse cx="275" cy="1542" rx="81" ry="27"/><text x="275" y="1556">3037</text>
<ellipse cx="666" cy="1614" rx="81" ry="27"/><text x="666" y="1628">3009</text>
<ellipse cx="1170" cy="1717" rx="81" ry="27"/><text x="1170" y="1731">W101</text>
<ellipse cx="2042" cy="1658" rx="81" ry="27"/><text x="2042" y="1672">5035</text>
<ellipse cx="862" cy="1870" rx="81" ry="27"/><text x="862" y="1884">5018</text>
<ellipse cx="1515" cy="1878" rx="81" ry="27"/><text x="1515" y="1892">5116</text>
<ellipse cx="2029" cy="1909" rx="81" ry="27"/><text x="2029" y="1923">W101</text>
<ellipse cx="1014" cy="1981" rx="81" ry="27"/><text x="1014" y="1995">5002</text>
<ellipse cx="512" cy="2019" rx="81" ry="27"/><text x="512" y="2033">5022</text>
<ellipse cx="931" cy="2165" rx="81" ry="27"/><text x="931" y="2179">5000</text>
<ellipse cx="1894" cy="2245" rx="81" ry="27"/><text x="1894" y="2259">5034</text>
</g>
</svg>
</body></html>
